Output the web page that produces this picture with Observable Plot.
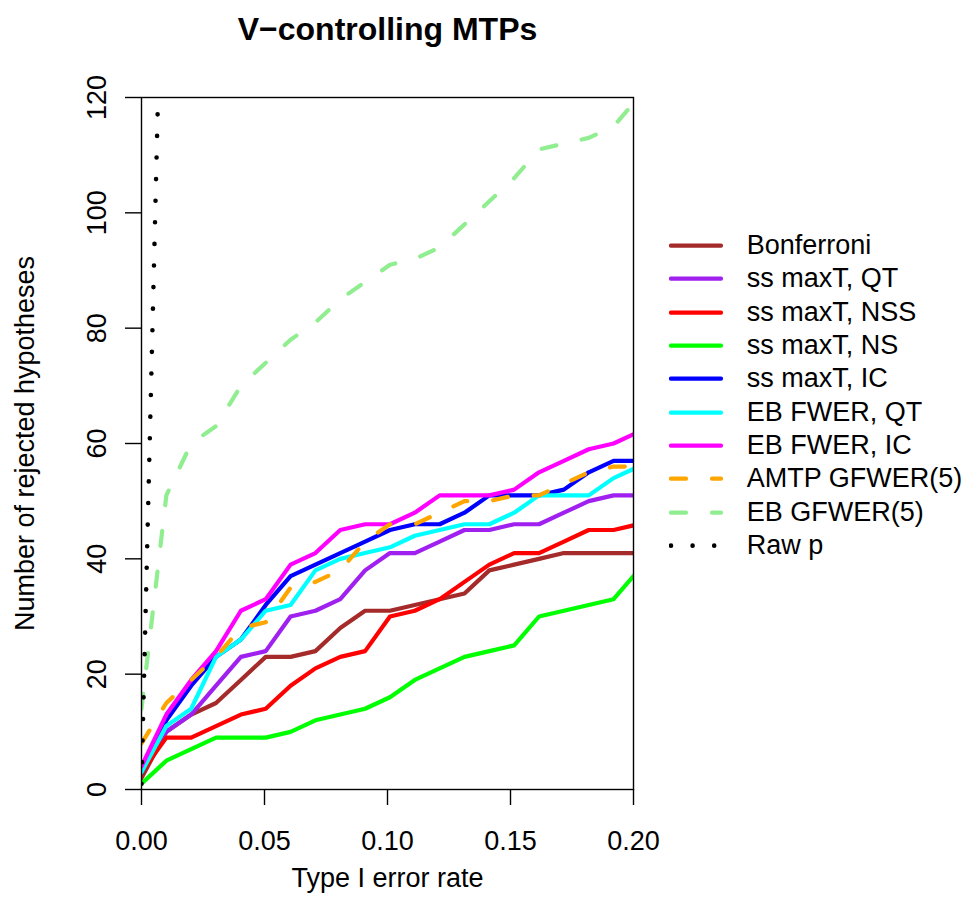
<!DOCTYPE html>
<html>
<head>
<meta charset="utf-8">
<script src="https://cdn.jsdelivr.net/npm/d3@7"></script>
<script src="https://cdn.jsdelivr.net/npm/@observablehq/plot@0.6"></script>
<style>
  html, body { margin: 0; padding: 0; background: #fff; }
  #wrap { position: relative; width: 968px; height: 919px; font-family: "Liberation Sans", Arial, Helvetica, sans-serif; color: #000; }
  #legend { position: absolute; left: 669px; top: 229px; }
  .row { display: flex; align-items: center; height: 33.33px; }
  .row svg { display: block; flex: none; }
  .row span { font-size: 27px; line-height: 33.33px; margin-left: 19.7px; white-space: nowrap; }
</style>
</head>
<body>
<div id="wrap"></div>
<script>
// ---- data ----
const alphaLevels = [0, 0.0101, 0.0202, 0.0303, 0.0404, 0.0505, 0.0606, 0.0707, 0.0808, 0.0909, 0.1010,
                     0.1111, 0.1212, 0.1313, 0.1414, 0.1515, 0.1616, 0.1717, 0.1818, 0.1919, 0.2020];
const bonferroni = [2, 10, 13, 15, 19, 23, 23, 24, 28, 31, 31, 32, 33, 34, 38, 39, 40, 41, 41, 41, 41];
const ssMaxTQT   = [3, 10, 13, 18, 23, 24, 30, 31, 33, 38, 41, 41, 43, 45, 45, 46, 46, 48, 50, 51, 51];
const ssMaxTNSS  = [3, 9, 9, 11, 13, 14, 18, 21, 23, 24, 30, 31, 33, 36, 39, 41, 41, 43, 45, 45, 46];
const ssMaxTNS   = [1, 5, 7, 9, 9, 9, 10, 12, 13, 14, 16, 19, 21, 23, 24, 25, 30, 31, 32, 33, 38];
const ssMaxTIC   = [3, 12, 18, 23, 26, 32, 37, 39, 41, 43, 45, 46, 46, 48, 51, 51, 51, 52, 55, 57, 57];
const ebFwerQT   = [3, 11, 14, 23, 26, 31, 32, 38, 40, 41, 42, 44, 45, 46, 46, 48, 51, 51, 51, 54, 56];
const ebFwerIC   = [4, 13, 19, 24, 31, 33, 39, 41, 45, 46, 46, 48, 51, 51, 51, 52, 55, 57, 59, 60, 62];
const amtpGfwer5 = [8, 15, 19, 23, 28, 29, 35, 36, 38, 43, 46, 46, 48, 50, 50, 51, 51, 53, 55, 56, 56];
const ebGfwer5   = [14, 51, 60, 63, 70, 74, 78, 81, 85, 88, 91, 92, 94, 98, 102, 106, 111, 112, 113, 115, 120];
const rawPLevels = [0, 0.0101];
const rawP       = [1, 180];

const seriesNames  = ["Bonferroni", "ss maxT, QT", "ss maxT, NSS", "ss maxT, NS", "ss maxT, IC",
                      "EB FWER, QT", "EB FWER, IC", "AMTP GFWER(5)", "EB GFWER(5)", "Raw p"];
const seriesColors = ["#A52A2A", "#A020F0", "#FF0000", "#00FF00", "#0000FF",
                      "#00FFFF", "#FF00FF", "#FFA500", "#90EE90", "#000000"];
const seriesDash   = ["none", "none", "none", "none", "none", "none", "none", "15,26", "15,26", "0,21.6"];
const seriesValues = [bonferroni, ssMaxTQT, ssMaxTNSS, ssMaxTNS, ssMaxTIC, ebFwerQT, ebFwerIC, amtpGfwer5, ebGfwer5, rawP];
const seriesX      = [alphaLevels, alphaLevels, alphaLevels, alphaLevels, alphaLevels, alphaLevels, alphaLevels, alphaLevels, alphaLevels, rawPLevels];

const xTicks = [0, 0.05, 0.10, 0.15, 0.20];
const yTicks = [0, 20, 40, 60, 80, 100, 120];
const titleText = "V\u2212controlling MTPs";
const xLabel = "Type I error rate";
const yLabel = "Number of rejected hypotheses";

// ---- build tables ----
const tables = seriesValues.map((vals, i) => vals.map((v, k) => ({x: seriesX[i][k], y: v, series: seriesNames[i]})));

const lineMarks = tables.map((t, i) => Plot.line(t, {
  x: "x", y: "y",
  stroke: seriesColors[i],
  strokeWidth: i === 9 ? 4.6 : 4.2,
  strokeDasharray: seriesDash[i] === "none" ? undefined : seriesDash[i],
  strokeLinecap: "round",
  strokeLinejoin: "round",
  clip: true
}));

const chart = Plot.plot({
  width: 968,
  height: 919,
  marginLeft: 141,
  marginRight: 335,
  marginTop: 97,
  marginBottom: 130,
  style: {fontFamily: '"Liberation Sans", Arial, Helvetica, sans-serif', fontSize: "27px", color: "#000", background: "#fff", overflow: "visible"},
  x: {domain: [0, 0.2]},
  y: {domain: [0, 120]},
  marks: [
    ...lineMarks,
    Plot.frame({stroke: "#000", strokeWidth: 1.4}),
    Plot.axisX({ticks: xTicks, tickSize: 16, tickPadding: 25, tickFormat: d3.format(".2f"), fontSize: 27, label: null, strokeWidth: 1.4}),
    Plot.axisY({ticks: yTicks, tickSize: 16, tickFormat: () => "", label: null, strokeWidth: 1.4}),
    Plot.text(yTicks, {y: d => d, text: d => String(d), frameAnchor: "left", dx: -44.5, rotate: -90, fontSize: 27, textAnchor: "middle", lineAnchor: "middle", fill: "#000"}),
    Plot.text([xLabel], {text: d => d, frameAnchor: "bottom", dy: 89, fontSize: 27, textAnchor: "middle", lineAnchor: "middle", fill: "#000"}),
    Plot.text([yLabel], {text: d => d, frameAnchor: "left", dx: -116.5, rotate: -90, fontSize: 27, textAnchor: "middle", lineAnchor: "middle", fill: "#000"}),
    Plot.text([titleText], {text: d => d, frameAnchor: "top", dy: -67.5, fontSize: 32, fontWeight: "bold", textAnchor: "middle", lineAnchor: "middle", fill: "#000"})
  ]
});

const wrap = document.getElementById("wrap");
wrap.appendChild(chart);

// ---- legend (right side) ----
const legend = document.createElement("div");
legend.id = "legend";
seriesNames.forEach((name, i) => {
  const row = document.createElement("div");
  row.className = "row";
  const ns = "http://www.w3.org/2000/svg";
  const svg = document.createElementNS(ns, "svg");
  svg.setAttribute("width", "58");
  svg.setAttribute("height", "33.33");
  const ln = document.createElementNS(ns, "line");
  ln.setAttribute("x1", "2");
  ln.setAttribute("x2", "52");
  ln.setAttribute("y1", "16.67");
  ln.setAttribute("y2", "16.67");
  ln.setAttribute("stroke", seriesColors[i]);
  ln.setAttribute("stroke-width", i === 9 ? "4.6" : "4.2");
  ln.setAttribute("stroke-linecap", "round");
  if (seriesDash[i] !== "none") ln.setAttribute("stroke-dasharray", seriesDash[i]);
  svg.appendChild(ln);
  const span = document.createElement("span");
  span.textContent = name;
  row.appendChild(svg);
  row.appendChild(span);
  legend.appendChild(row);
});
wrap.appendChild(legend);
</script>
</body>
</html>
